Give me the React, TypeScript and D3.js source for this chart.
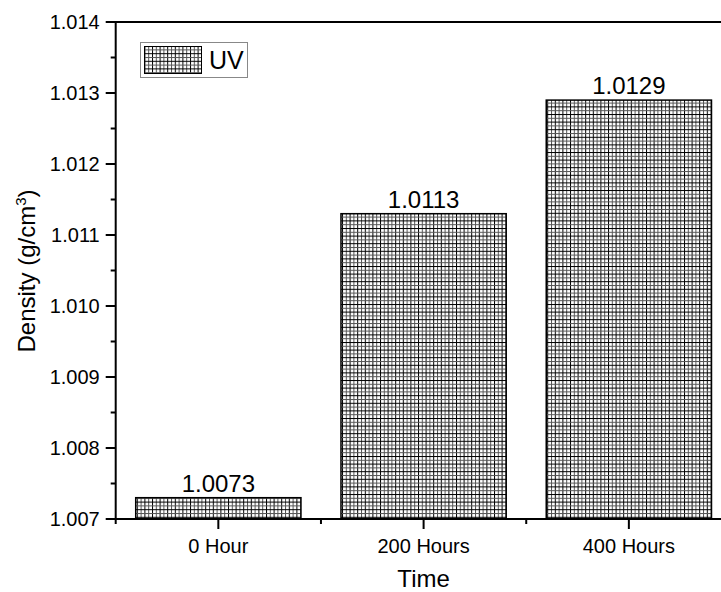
import React from 'react';
import * as d3 from 'd3';

const categories = ['0 Hour', '200 Hours', '400 Hours'];
const densities = [1.0073, 1.0113, 1.0129];
const valueLabels = ['1.0073', '1.0113', '1.0129'];
const yTicks = [1.007, 1.008, 1.009, 1.01, 1.011, 1.012, 1.013, 1.014];
const yMinorTicks = [1.0075, 1.0085, 1.0095, 1.0105, 1.0115, 1.0125, 1.0135];
const legendLabel = 'UV';

const W = 721;
const H = 592;
const font = "Arial, 'Liberation Sans', sans-serif";

const App = () => {
    // plot frame
    const left = 115.7;
    const right = 731.5;
    const top = 22;
    const bottom = 519;

    const x = d3.scaleBand<string>()
        .domain(categories)
        .range([left, right])
        .paddingInner(0.195)
        .paddingOuter(0.0975);

    const y = d3.scaleLinear().domain([1.007, 1.014]).range([bottom, top]);

    const step = x.step();
    const boundaries = d3.range(categories.length + 1).map(i => left + i * step);

    return (
        <svg width={W} height={H} style={{ position: 'absolute', left: 0, top: 0, background: '#fff' }}>
            <defs>
                <pattern id="grid" patternUnits="userSpaceOnUse" width={7.6} height={7.6}>
                    <rect width={7.6} height={7.6} fill="#fff" />
                    <line x1={0.5} x2={0.5} y1={0} y2={7.6} stroke="#000" strokeWidth={1} />
                    <line x1={4.3} x2={4.3} y1={0} y2={7.6} stroke="#555" strokeWidth={1} />
                    <line y1={0.5} y2={0.5} x1={0} x2={7.6} stroke="#000" strokeWidth={1} />
                    <line y1={4.3} y2={4.3} x1={0} x2={7.6} stroke="#555" strokeWidth={1} />
                </pattern>
            </defs>

            {/* bars */}
            {categories.map((c, i) => (
                <g key={c}>
                    <rect x={x(c)} y={y(densities[i])} width={x.bandwidth()} height={bottom - y(densities[i])}
                        fill="url(#grid)" stroke="#000" strokeWidth={1.5} />
                    <text x={(x(c) as number) + x.bandwidth() / 2} y={y(densities[i]) - 6}
                        textAnchor="middle" fontFamily={font} fontSize={24} fill="#000">{valueLabels[i]}</text>
                </g>
            ))}

            {/* axes */}
            <line x1={left} x2={W + 20} y1={top} y2={top} stroke="#000" strokeWidth={2} />
            <line x1={left} x2={left} y1={top - 1} y2={bottom + 1} stroke="#000" strokeWidth={2} />
            <line x1={left - 1} x2={W + 20} y1={bottom} y2={bottom} stroke="#000" strokeWidth={2} />

            {yTicks.map(t => (
                <g key={t}>
                    <line x1={left - 10} x2={left} y1={y(t)} y2={y(t)} stroke="#000" strokeWidth={2} />
                    <text x={left - 16} y={y(t)} dy="0.35em" textAnchor="end" fontFamily={font} fontSize={20} fill="#000">
                        {d3.format('.3f')(t)}
                    </text>
                </g>
            ))}
            {yMinorTicks.map(t => (
                <line key={t} x1={left - 5} x2={left} y1={y(t)} y2={y(t)} stroke="#000" strokeWidth={2} />
            ))}

            {categories.map(c => {
                const cx = (x(c) as number) + x.bandwidth() / 2;
                return (
                    <g key={c}>
                        <line x1={cx} x2={cx} y1={bottom} y2={bottom + 10} stroke="#000" strokeWidth={2} />
                        <text x={cx} y={bottom + 34} textAnchor="middle" fontFamily={font} fontSize={20} fill="#000">{c}</text>
                    </g>
                );
            })}
            {boundaries.map(b => (
                <line key={b} x1={b} x2={b} y1={bottom} y2={bottom + 5} stroke="#000" strokeWidth={2} />
            ))}

            {/* axis titles */}
            <text x={(left + right) / 2} y={587} textAnchor="middle" fontFamily={font} fontSize={24} fill="#000">Time</text>
            <text transform={`translate(35, 271) rotate(-90)`} textAnchor="middle" fontFamily={font} fontSize={24} fill="#000">
                Density (g/cm<tspan dy={-9} fontSize={15}>3</tspan><tspan dy={9}>)</tspan>
            </text>

            {/* legend */}
            <rect x={140.5} y={42.5} width={107} height={35} fill="#fff" stroke="#888" strokeWidth={1} />
            <rect x={144.5} y={46.5} width={57} height={27} fill="url(#grid)" stroke="#000" strokeWidth={1} />
            <text x={209} y={69} fontFamily={font} fontSize={25} fill="#000">{legendLabel}</text>
        </svg>
    );
};

export default App;
